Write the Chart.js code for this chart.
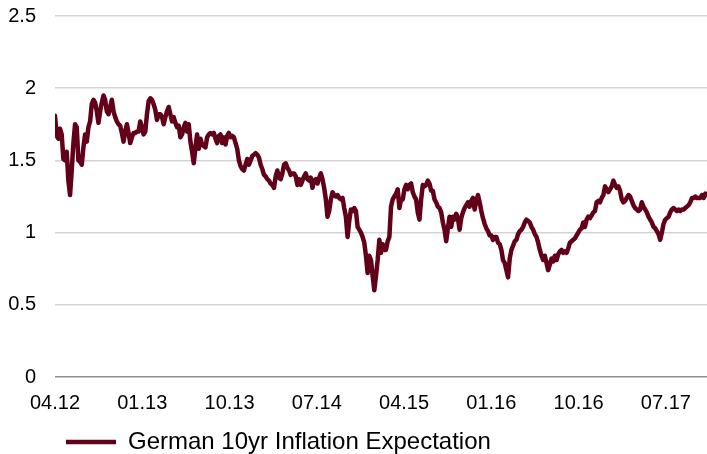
<!DOCTYPE html>
<html><head><meta charset="utf-8">
<script src="https://cdn.jsdelivr.net/npm/chart.js@4.4.1/dist/chart.umd.min.js"></script>
<style>html,body{margin:0;padding:0;background:#fff}#wrap{width:707px;height:454px;position:relative}</style>
</head><body><div id="wrap"><canvas id="c"></canvas></div>
<script>
const seriesName = 'German 10yr Inflation Expectation';
const tickLabels = ['04.12','01.13','10.13','07.14','04.15','01.16','10.16','07.17'];
const monthsPerTick = 9;
const samplesPerMonth = 5.8;
const yTicks = [0, 0.5, 1, 1.5, 2, 2.5];
const values = [
1.81,1.67,1.65,1.72,1.68,1.51,1.50,1.56,1.36,1.26,
1.43,1.62,1.75,1.73,1.50,1.49,1.47,1.59,1.68,1.63,
1.73,1.77,1.89,1.92,1.90,1.84,1.76,1.84,1.90,1.95,
1.92,1.84,1.82,1.87,1.92,1.84,1.80,1.77,1.75,1.74,
1.69,1.63,1.70,1.75,1.69,1.62,1.66,1.69,1.69,1.70,
1.70,1.77,1.73,1.68,1.70,1.82,1.91,1.93,1.92,1.89,
1.85,1.78,1.82,1.82,1.80,1.75,1.80,1.84,1.87,1.82,
1.77,1.80,1.76,1.73,1.74,1.66,1.68,1.73,1.76,1.70,
1.75,1.63,1.56,1.48,1.59,1.68,1.58,1.65,1.61,1.60,
1.59,1.66,1.68,1.69,1.68,1.69,1.65,1.62,1.67,1.68,
1.62,1.66,1.61,1.67,1.69,1.66,1.67,1.66,1.62,1.58,
1.50,1.46,1.44,1.43,1.47,1.51,1.47,1.50,1.53,1.54,
1.55,1.54,1.52,1.47,1.44,1.40,1.39,1.37,1.36,1.34,
1.33,1.31,1.39,1.43,1.38,1.37,1.41,1.47,1.48,1.45,
1.43,1.40,1.41,1.41,1.39,1.33,1.37,1.33,1.36,1.39,
1.41,1.37,1.36,1.38,1.31,1.36,1.37,1.34,1.38,1.41,
1.37,1.31,1.23,1.11,1.15,1.23,1.28,1.26,1.25,1.26,
1.24,1.23,1.24,1.17,1.11,0.97,1.08,1.16,1.15,1.17,
1.15,1.04,1.02,1.00,0.97,0.93,0.84,0.72,0.84,0.81,
0.70,0.60,0.70,0.81,0.95,0.86,0.92,0.88,0.88,0.94,
0.97,1.18,1.23,1.25,1.27,1.30,1.17,1.23,1.23,1.30,
1.33,1.30,1.33,1.34,1.28,1.25,1.23,1.14,1.09,1.23,
1.33,1.32,1.33,1.36,1.34,1.29,1.29,1.23,1.21,1.18,
1.17,1.14,1.07,1.02,0.94,1.03,1.11,1.04,1.11,1.09,
1.13,1.10,1.02,1.10,1.14,1.17,1.19,1.21,1.18,1.22,
1.24,1.16,1.22,1.26,1.21,1.15,1.10,1.06,1.03,1.01,
0.98,0.98,0.95,0.97,0.97,0.93,0.92,0.88,0.81,0.79,
0.74,0.69,0.82,0.88,0.91,0.94,0.95,0.99,1.01,1.02,
1.04,1.07,1.09,1.08,1.07,1.04,1.02,0.99,0.97,0.93,
0.88,0.84,0.81,0.84,0.79,0.74,0.78,0.82,0.80,0.84,
0.81,0.85,0.87,0.88,0.86,0.87,0.86,0.89,0.93,0.94,
0.95,0.96,0.98,1.00,1.02,1.03,1.07,1.04,1.09,1.11,
1.10,1.12,1.14,1.15,1.21,1.22,1.21,1.24,1.26,1.32,
1.30,1.28,1.30,1.32,1.36,1.33,1.31,1.32,1.29,1.23,
1.21,1.22,1.24,1.26,1.25,1.22,1.19,1.17,1.16,1.15,
1.16,1.21,1.18,1.16,1.14,1.11,1.09,1.07,1.04,1.03,
1.01,0.99,0.95,1.00,1.06,1.09,1.10,1.11,1.14,1.16,
1.17,1.16,1.15,1.16,1.15,1.16,1.16,1.17,1.18,1.19,
1.21,1.24,1.24,1.25,1.24,1.24,1.24,1.26,1.24,1.27,
1.26
];

const points = values.map((v, i) => ({ x: i / samplesPerMonth, y: v }));
const lastX = (values.length - 1) / samplesPerMonth;
const FONT = "'Liberation Sans', Arial, sans-serif";
const LINE = '#610018';

const legendShift = {
  id: 'legendShift',
  afterLayout(chart) {
    const l = chart.legend;
    if (l) { l.left += 65; l.right += 65; l.top += 10; l.bottom += 10; }
  }
};

new Chart(document.getElementById('c'), {
  type: 'line',
  data: {
    datasets: [{
      label: seriesName,
      data: points,
      borderColor: LINE,
      backgroundColor: LINE,
      borderWidth: 4.5,
      pointRadius: 0,
      tension: 0,
      borderJoinStyle: 'round',
      borderCapStyle: 'round'
    }]
  },
  options: {
    responsive: true,
    maintainAspectRatio: false,
    animation: false,
    layout: { padding: { top: 16, left: 0, right: 0, bottom: 0 } },
    plugins: {
      tooltip: { enabled: false },
      legend: {
        position: 'bottom',
        align: 'start',
        labels: {
          usePointStyle: true,
          pointStyle: 'line',
          pointStyleWidth: 50,
          padding: 1,
          color: '#000',
          font: { family: FONT, size: 24 }
        }
      }
    },
    scales: {
      x: {
        type: 'linear',
        min: 0,
        max: lastX,
        grid: { display: false, drawTicks: false },
        border: { display: false },
        afterFit: s => { s.height = 42; },
        ticks: {
          stepSize: monthsPerTick,
          includeBounds: false,
          autoSkip: false,
          maxRotation: 0,
          padding: 14,
          color: '#000',
          font: { family: FONT, size: 20 },
          callback: v => tickLabels[Math.round(v / monthsPerTick)] ?? ''
        }
      },
      y: {
        type: 'linear',
        min: yTicks[0],
        max: yTicks[yTicks.length - 1],
        afterFit: s => { s.width = 55; },
        afterBuildTicks: s => { s.ticks = yTicks.map(v => ({ value: v })); },
        grid: {
          drawTicks: true,
          tickLength: 19,
          tickColor: 'rgba(0,0,0,0)',
          lineWidth: 1.5,
          color: c => (c.tick && c.tick.value === 0) ? '#8f8f8f' : '#d3d3d3'
        },
        border: { display: false },
        ticks: {
          padding: 0,
          color: '#000',
          font: { family: FONT, size: 20 },
          callback: v => String(v)
        }
      }
    }
  },
  plugins: [legendShift]
});
</script>
</body></html>
